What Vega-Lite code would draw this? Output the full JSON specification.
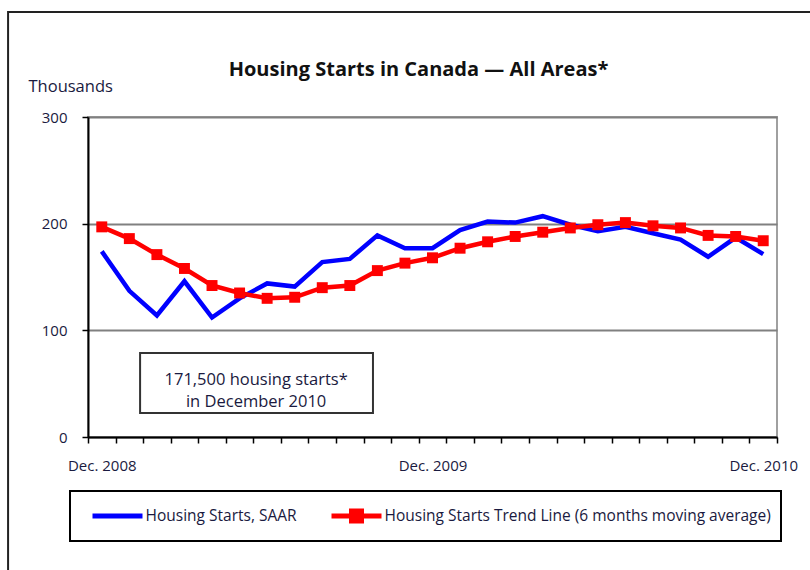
{
  "$schema": "https://vega.github.io/schema/vega-lite/v6.json",
  "width": 689,
  "height": 320,
  "autosize": {"type": "none"},
  "padding": {"left": 88, "top": 117, "right": 33, "bottom": 133},
  "background": "white",
  "config": {
    "view": {"stroke": "#a0a0a0", "strokeWidth": 2},
    "font": "Open Sans",
    "legend": {"strokeWidth": 2, "strokeColor": "black"}
  },
  "title": {
    "text": "Housing Starts in Canada — All Areas*",
    "fontSize": 20,
    "fontWeight": "bold",
    "color": "#111111",
    "anchor": "middle",
    "dx": -14,
    "offset": 30,
    "dy": 99
  },
  "datasets": {
    "starts": [
      {"month": "Dec. 2008", "series": "Housing Starts, SAAR", "value": 174},
      {"month": "Jan. 2009", "series": "Housing Starts, SAAR", "value": 137},
      {"month": "Feb. 2009", "series": "Housing Starts, SAAR", "value": 114},
      {"month": "Mar. 2009", "series": "Housing Starts, SAAR", "value": 146},
      {"month": "Apr. 2009", "series": "Housing Starts, SAAR", "value": 112},
      {"month": "May 2009", "series": "Housing Starts, SAAR", "value": 130},
      {"month": "Jun. 2009", "series": "Housing Starts, SAAR", "value": 144},
      {"month": "Jul. 2009", "series": "Housing Starts, SAAR", "value": 141},
      {"month": "Aug. 2009", "series": "Housing Starts, SAAR", "value": 164},
      {"month": "Sep. 2009", "series": "Housing Starts, SAAR", "value": 167},
      {"month": "Oct. 2009", "series": "Housing Starts, SAAR", "value": 189},
      {"month": "Nov. 2009", "series": "Housing Starts, SAAR", "value": 177},
      {"month": "Dec. 2009", "series": "Housing Starts, SAAR", "value": 177},
      {"month": "Jan. 2010", "series": "Housing Starts, SAAR", "value": 194},
      {"month": "Feb. 2010", "series": "Housing Starts, SAAR", "value": 202},
      {"month": "Mar. 2010", "series": "Housing Starts, SAAR", "value": 201},
      {"month": "Apr. 2010", "series": "Housing Starts, SAAR", "value": 207},
      {"month": "May 2010", "series": "Housing Starts, SAAR", "value": 199},
      {"month": "Jun. 2010", "series": "Housing Starts, SAAR", "value": 193},
      {"month": "Jul. 2010", "series": "Housing Starts, SAAR", "value": 197},
      {"month": "Aug. 2010", "series": "Housing Starts, SAAR", "value": 191},
      {"month": "Sep. 2010", "series": "Housing Starts, SAAR", "value": 185},
      {"month": "Oct. 2010", "series": "Housing Starts, SAAR", "value": 169},
      {"month": "Nov. 2010", "series": "Housing Starts, SAAR", "value": 187},
      {"month": "Dec. 2010", "series": "Housing Starts, SAAR", "value": 171.5},
      {"month": "Dec. 2008", "series": "Housing Starts Trend Line (6 months moving average)", "value": 197},
      {"month": "Jan. 2009", "series": "Housing Starts Trend Line (6 months moving average)", "value": 186},
      {"month": "Feb. 2009", "series": "Housing Starts Trend Line (6 months moving average)", "value": 171},
      {"month": "Mar. 2009", "series": "Housing Starts Trend Line (6 months moving average)", "value": 158},
      {"month": "Apr. 2009", "series": "Housing Starts Trend Line (6 months moving average)", "value": 142},
      {"month": "May 2009", "series": "Housing Starts Trend Line (6 months moving average)", "value": 135},
      {"month": "Jun. 2009", "series": "Housing Starts Trend Line (6 months moving average)", "value": 130},
      {"month": "Jul. 2009", "series": "Housing Starts Trend Line (6 months moving average)", "value": 131},
      {"month": "Aug. 2009", "series": "Housing Starts Trend Line (6 months moving average)", "value": 140},
      {"month": "Sep. 2009", "series": "Housing Starts Trend Line (6 months moving average)", "value": 142},
      {"month": "Oct. 2009", "series": "Housing Starts Trend Line (6 months moving average)", "value": 156},
      {"month": "Nov. 2009", "series": "Housing Starts Trend Line (6 months moving average)", "value": 163},
      {"month": "Dec. 2009", "series": "Housing Starts Trend Line (6 months moving average)", "value": 168},
      {"month": "Jan. 2010", "series": "Housing Starts Trend Line (6 months moving average)", "value": 177},
      {"month": "Feb. 2010", "series": "Housing Starts Trend Line (6 months moving average)", "value": 183},
      {"month": "Mar. 2010", "series": "Housing Starts Trend Line (6 months moving average)", "value": 188},
      {"month": "Apr. 2010", "series": "Housing Starts Trend Line (6 months moving average)", "value": 192},
      {"month": "May 2010", "series": "Housing Starts Trend Line (6 months moving average)", "value": 196},
      {"month": "Jun. 2010", "series": "Housing Starts Trend Line (6 months moving average)", "value": 199},
      {"month": "Jul. 2010", "series": "Housing Starts Trend Line (6 months moving average)", "value": 201},
      {"month": "Aug. 2010", "series": "Housing Starts Trend Line (6 months moving average)", "value": 198},
      {"month": "Sep. 2010", "series": "Housing Starts Trend Line (6 months moving average)", "value": 196},
      {"month": "Oct. 2010", "series": "Housing Starts Trend Line (6 months moving average)", "value": 189},
      {"month": "Nov. 2010", "series": "Housing Starts Trend Line (6 months moving average)", "value": 188},
      {"month": "Dec. 2010", "series": "Housing Starts Trend Line (6 months moving average)", "value": 184}
    ],
    "note": [
      {"note": "171,500 housing starts*\nin December 2010"}
    ]
  },
  "layer": [
    {
      "data": {"name": "note"},
      "mark": {"type": "rect", "fill": "transparent", "stroke": "#222222", "strokeWidth": 2, "clip": false},
      "encoding": {
        "x": {"datum": -2.9, "type": "quantitative", "scale": {"domain": [0, 25]}, "axis": null},
        "x2": {"datum": 30},
        "y": {"datum": 398.4, "type": "quantitative", "scale": {"domain": [0, 300]}},
        "y2": {"datum": -150}
      }
    },
    {
      "data": {"name": "note"},
      "mark": {"type": "rect", "fill": "white", "stroke": "#333333", "strokeWidth": 2},
      "encoding": {
        "x": {"datum": 1.89, "type": "quantitative", "scale": {"domain": [0, 25]}, "axis": null},
        "x2": {"datum": 10.34},
        "y": {"datum": 22.5, "type": "quantitative", "scale": {"domain": [0, 300]}},
        "y2": {"datum": 78.75}
      }
    },
    {
      "data": {"name": "note"},
      "mark": {"type": "text", "lineBreak": "\n", "fontSize": 16.5, "lineHeight": 22, "color": "#1a1a40", "align": "center", "baseline": "middle"},
      "encoding": {
        "x": {"datum": 6.1, "type": "quantitative", "scale": {"domain": [0, 25]}, "axis": null},
        "y": {"datum": 53.5, "type": "quantitative", "scale": {"domain": [0, 300]}},
        "text": {"field": "note"}
      }
    },
    {
      "data": {"name": "starts"},
      "encoding": {
        "x": {
          "field": "month",
          "type": "ordinal",
          "sort": null,
          "scale": {"type": "band", "paddingInner": 0, "paddingOuter": 0},
          "axis": {
            "title": null,
            "tickBand": "extent",
            "labelExpr": "substring(datum.label, 0, 3) === 'Dec' ? datum.label : ''",
            "labelAngle": 0,
            "labelOverlap": false,
            "labelFontSize": 15,
            "labelColor": "#1a1a40",
            "labelPadding": 15,
            "domainColor": "black",
            "domainWidth": 2,
            "tickColor": "black",
            "tickWidth": 1.5,
            "tickSize": 6,
            "grid": false
          }
        },
        "y": {
          "field": "value",
          "type": "quantitative",
          "scale": {"domain": [0, 300]},
          "axis": {
            "values": [0, 100, 200, 300],
            "title": "Thousands",
            "titleAngle": 0,
            "titleAlign": "left",
            "titleBaseline": "alphabetic",
            "titleX": -60,
            "titleY": -26,
            "titleFontSize": 16.5,
            "titleFontWeight": "normal",
            "titleColor": "#1a1a40",
            "labelFontSize": 15,
            "labelColor": "#1a1a40",
            "labelPadding": 15,
            "domainColor": "black",
            "domainWidth": 2,
            "tickColor": "black",
            "tickWidth": 1.5,
            "tickSize": 6,
            "grid": true,
            "gridColor": "#808080",
            "gridWidth": 2
          }
        },
        "color": {
          "field": "series",
          "type": "nominal",
          "sort": null,
          "scale": {
            "domain": ["Housing Starts, SAAR", "Housing Starts Trend Line (6 months moving average)"],
            "range": ["#0000ff", "#ff0000"]
          },
          "legend": {
            "orient": "none",
            "legendX": -18,
            "legendY": 374,
            "direction": "horizontal",
            "title": null,
            "padding": 10,
            "symbolType": "M-2,0H2",
            "symbolSize": 625,
            "symbolStrokeWidth": 5,
            "symbolOffset": 22.5,
            "labelFontSize": 15.5,
            "labelColor": "#1a1a40",
            "labelLimit": 600,
            "labelOffset": 13,
            "columnPadding": 22,
            "encode": {
              "symbols": {
                "update": {
                  "shape": {"signal": "datum.value === 'Housing Starts, SAAR' ? 'M-2,0H2M0,-0.4h0M0,0.4h0' : 'M-2,0H2M-0.4,-0.4H0.4V0.4H-0.4Z'"},
                  "fill": {"signal": "datum.value === 'Housing Starts, SAAR' ? 'transparent' : '#ff0000'"}
                }
              }
            }
          }
        }
      },
      "layer": [
        {"mark": {"type": "line", "strokeWidth": 4.5}},
        {
          "transform": [{"filter": "datum.series !== 'Housing Starts, SAAR'"}],
          "mark": {"type": "square", "filled": true, "size": 120, "opacity": 1}
        }
      ]
    }
  ],
  "resolve": {"scale": {"x": "independent"}}
}
